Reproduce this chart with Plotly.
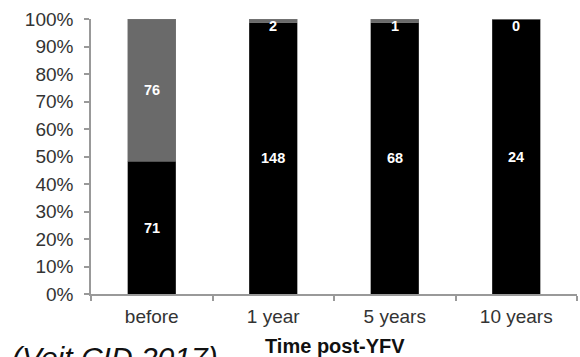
import plotly.graph_objects as go

categories = ["before", "1 year", "5 years", "10 years"]
bottom_counts = [71, 148, 68, 24]
top_counts = [76, 2, 1, 0]
y_ticks = [0, 10, 20, 30, 40, 50, 60, 70, 80, 90, 100]
y_tick_labels = [f"{v}%" for v in y_ticks]

totals = [b + t for b, t in zip(bottom_counts, top_counts)]
bottom_pct = [100 * b / tot for b, tot in zip(bottom_counts, totals)]
top_pct = [100 * t / tot for t, tot in zip(top_counts, totals)]

FONT = "Arial, Liberation Sans, Helvetica, sans-serif"
LABEL_FONT = dict(family=FONT, size=14.5, color="white", weight="bold")

fig = go.Figure()
fig.add_trace(go.Bar(x=categories, y=bottom_pct, marker=dict(color="#000000", line=dict(color="#555555", width=0.5)),
                     showlegend=False, hoverinfo="skip"))
fig.add_trace(go.Bar(x=categories, y=top_pct, marker=dict(color="#6a6a6a", line=dict(color="#777777", width=0.5)),
                     showlegend=False, hoverinfo="skip"))

annotations = []
for c, b, t, bp, tp in zip(categories, bottom_counts, top_counts, bottom_pct, top_pct):
    annotations.append(dict(x=c, y=bp / 2, xref="x", yref="y", text=str(b), showarrow=False, font=LABEL_FONT))
    if tp >= 10:
        annotations.append(dict(x=c, y=bp + tp / 2, xref="x", yref="y", text=str(t), showarrow=False,
                                font=LABEL_FONT))
    else:
        annotations.append(dict(x=c, y=bp + tp, xref="x", yref="y", text=str(t), showarrow=False,
                                yanchor="top", yshift=3, font=LABEL_FONT))

annotations.append(dict(x=335, y=359, xref="paper", yref="paper", text="<b>Time post-YFV</b>", showarrow=False,
                        font=dict(family=FONT, size=20, color="#111111")))
annotations.append(dict(x=10, y=376, xref="paper", yref="paper", text="<i>(Veit CID 2017)</i>", showarrow=False,
                        xanchor="left", font=dict(family=FONT, size=30, color="#111111")))

# convert pixel positions of the two free texts into paper coordinates
L, R, T, B = 91, 3, 18.5, 63
W, H = 580, 357
pw, ph = W - L - R, H - T - B
for a in annotations[-2:]:
    a["x"] = (a["x"] - L) / pw
    a["y"] = (H - B - a["y"]) / ph

fig.update_layout(
    barmode="stack",
    bargap=0.605,
    width=W, height=H,
    margin=dict(l=L, r=R, t=T, b=B, pad=0),
    paper_bgcolor="white", plot_bgcolor="white",
    font=dict(family=FONT, size=19, color="#333333"),
    annotations=annotations,
)
fig.update_xaxes(showline=True, linecolor="#999999", linewidth=1.5, ticks="outside", tickson="boundaries",
                 ticklen=5, tickcolor="#999999", tickwidth=1.5, showgrid=False,
                 tickfont=dict(family=FONT, size=19, color="#333333"), ticklabelstandoff=4)
fig.update_yaxes(range=[0, 100], tickvals=y_ticks, ticktext=y_tick_labels, showline=True, linecolor="#999999",
                 linewidth=1.5, ticks="outside", ticklen=5, tickcolor="#999999", tickwidth=1.5, showgrid=False,
                 zeroline=False, tickfont=dict(family=FONT, size=19, color="#333333"), ticklabelstandoff=7)

fig.write_html("out.html", config={"displayModeBar": False},
               post_script="document.body.style.margin='0px';")
